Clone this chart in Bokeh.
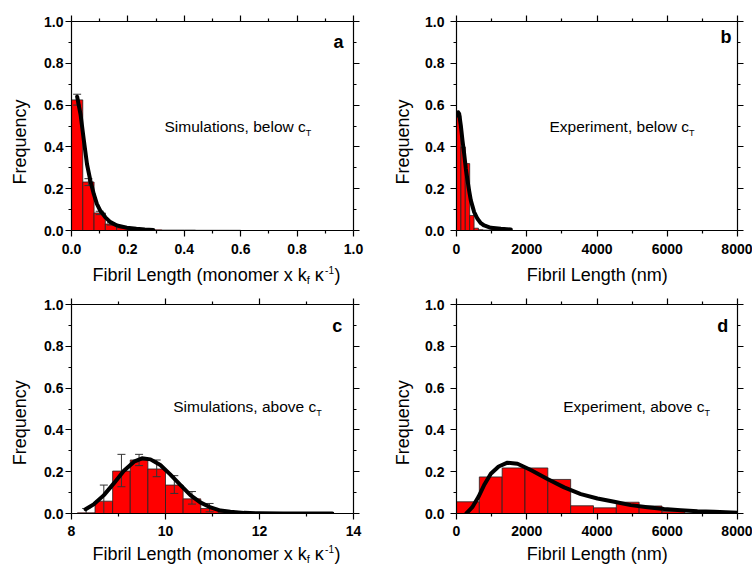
from bokeh.plotting import figure
from bokeh.layouts import column, row
from bokeh.models import (Range1d, LinearAxis, FixedTicker, Label,
                          CustomJSTickFormatter, PrintfTickFormatter)
from bokeh.embed import file_html
from bokeh.resources import INLINE

# ---------------- data ----------------
# panel a: simulations, below cT
a_centers = [0.02, 0.06, 0.10, 0.14, 0.18, 0.22, 0.26, 0.30, 0.34, 0.38, 0.42, 0.46, 0.50, 0.54, 0.58]
a_freq = [0.625, 0.232, 0.084, 0.031, 0.013, 0.006, 0.004, 0.003, 0.002, 0.002, 0.002, 0.001, 0.001, 0.001, 0.001]
a_bin_width = 0.04
a_err_x = [0.02, 0.06, 0.10, 0.14]
a_err_lo = [0.600, 0.215, 0.076, 0.026]
a_err_hi = [0.652, 0.248, 0.092, 0.037]
a_fit_x = [0.020, 0.032, 0.044, 0.055, 0.067, 0.079, 0.090, 0.102, 0.120, 0.138, 0.161, 0.196, 0.230, 0.260, 0.290]
a_fit_y = [0.640, 0.556, 0.430, 0.317, 0.238, 0.175, 0.127, 0.095, 0.063, 0.040, 0.024, 0.013, 0.008, 0.005, 0.003]

# panel b: experiment, below cT (nm)
b_centers = [62.5, 187.5, 312.5, 437.5, 562.5, 687.5, 812.5, 937.5, 1062.5, 1187.5, 1312.5]
b_freq = [0.55, 0.40, 0.32, 0.072, 0.011, 0.004, 0.002, 0.002, 0.013, 0.014, 0.012]
b_bin_width = 125
b_fit_x = [25, 47, 76, 123, 171, 218, 266, 313, 360, 408, 503, 598, 693, 787, 977, 1262, 1546]
b_fit_y = [0.550, 0.566, 0.558, 0.502, 0.430, 0.367, 0.295, 0.240, 0.190, 0.144, 0.088, 0.056, 0.035, 0.024, 0.013, 0.008, 0.005]

# panel c: simulations, above cT
c_centers = [8.3125, 8.6875, 9.0625, 9.4375, 9.8125, 10.1875, 10.5625, 10.9375, 11.3125]
c_freq = [0.003, 0.059, 0.203, 0.256, 0.213, 0.136, 0.070, 0.024, 0.006]
c_bin_width = 0.375
c_err_x = [8.3125, 8.6875, 9.0625, 9.4375, 9.8125, 10.1875, 10.5625, 10.9375]
c_err_lo = [0.000, 0.000, 0.128, 0.229, 0.176, 0.096, 0.045, 0.008]
c_err_hi = [0.024, 0.136, 0.283, 0.283, 0.256, 0.181, 0.105, 0.048]
c_fit_x = [8.30, 8.48, 8.69, 8.90, 9.11, 9.33, 9.50, 9.68, 9.89, 10.10, 10.32, 10.53, 10.74, 10.96, 11.17, 11.38, 11.67, 12.0, 12.5, 13.0, 13.55]
c_fit_y = [0.020, 0.045, 0.088, 0.144, 0.203, 0.248, 0.264, 0.259, 0.232, 0.187, 0.136, 0.088, 0.053, 0.029, 0.014, 0.008, 0.003, 0.001, 0.0, 0.0, 0.0]

# panel d: experiment, above cT (nm)
d_centers = [325, 975, 1625, 2275, 2925, 3575, 4225, 4875, 5525, 6175]
d_freq = [0.056, 0.175, 0.218, 0.218, 0.163, 0.037, 0.027, 0.054, 0.036, 0.009]
d_bin_width = 650
d_fit_x = [280, 450, 626, 800, 977, 1200, 1450, 1736, 2116, 2590, 3065, 3540, 4013, 4490, 4962, 5436, 5911, 6385, 6860, 7334, 8000]
d_fit_y = [0.000, 0.030, 0.080, 0.140, 0.190, 0.225, 0.243, 0.238, 0.208, 0.165, 0.125, 0.093, 0.072, 0.056, 0.040, 0.030, 0.021, 0.016, 0.011, 0.008, 0.004]

y_major = [0.0, 0.2, 0.4, 0.6, 0.8, 1.0]
y_minor = [0.1, 0.3, 0.5, 0.7, 0.9]
a_x_major = [0.0, 0.2, 0.4, 0.6, 0.8, 1.0]
a_x_minor = [0.1, 0.3, 0.5, 0.7, 0.9]
nm_major = [0, 2000, 4000, 6000, 8000]
nm_minor = [1000, 3000, 5000, 7000]
c_x_major = [8, 10, 12, 14]
c_x_minor = [9, 11, 13]

FONT = "Liberation Sans"
# Arial / Liberation Sans advance widths (1/1000 em) for text placement
ADV = {' ': 278, ',': 278, '(': 333, ')': 333, '-': 333, '1': 556, 'F': 611, 'L': 556, 'S': 667,
       'E': 667, 'T': 611, 'a': 556, 'b': 556, 'c': 500, 'e': 556, 'g': 556, 'h': 556, 'i': 222,
       'k': 500, 'l': 222, 'm': 833, 'n': 556, 'o': 556, 'p': 556, 'r': 333, 's': 500, 't': 278,
       'u': 556, 'v': 500, 'w': 722, 'x': 500, 'f': 278, 'κ': 520}
BASE_FIX = 0.22  # rendered alphabetic baseline sits this many em lower than asked


def tw(s, size):
    return sum(ADV.get(ch, 556) for ch in s) * size / 1000.0


def label(p, x, y, text, size, bold=False, align="left", baseline="alphabetic", angle=0.0,
          dx=0.0, dy=0.0):
    if baseline == "alphabetic":
        dy += BASE_FIX * size
    p.add_layout(Label(x=x, y=y, x_offset=dx, y_offset=dy,
                       text=text, text_font=FONT, text_font_size=f"{size}px",
                       text_font_style="bold" if bold else "normal", text_color="black",
                       text_align=align, text_baseline=baseline, angle=angle))


def frame_text(p, dx, dy, text, size, bold=False):
    # offsets in pixels from the frame's bottom-left corner
    label(p, p.x_range.start, p.y_range.start, text, size, bold=bold, dx=dx, dy=dy)


def frame_parts(p, dx, dy, parts):
    cx = dx
    for t, s, off in parts:
        frame_text(p, cx, dy + off, t, s)
        cx += tw(t, s)


def make_axis(ticks, minor, labels, fmt, standoff):
    ax = LinearAxis(ticker=FixedTicker(ticks=ticks, minor_ticks=minor))
    ax.axis_line_color = "black"
    ax.axis_line_width = 1.2
    ax.major_tick_line_color = "black"
    ax.minor_tick_line_color = "black"
    ax.major_tick_line_width = 1.2
    ax.minor_tick_line_width = 1.2
    ax.major_tick_in = 0
    ax.major_tick_out = 6
    ax.minor_tick_in = 0
    ax.minor_tick_out = 3
    if labels:
        ax.formatter = PrintfTickFormatter(format=fmt)
        ax.major_label_text_font = FONT
        ax.major_label_text_font_size = "14px"
        ax.major_label_text_font_style = "bold"
        ax.major_label_text_color = "black"
        ax.major_label_standoff = standoff
    else:
        ax.formatter = CustomJSTickFormatter(code="return ''")
        ax.major_label_text_font_size = "0px"
        ax.major_label_standoff = 0
    return ax


def clean(p):
    p.outline_line_color = None
    p.background_fill_color = "white"
    p.border_fill_color = "white"
    p.xgrid.visible = False
    p.ygrid.visible = False


def make_panel(xr, xmaj, xmin, xfmt, w, h, bl, br, bt, bb, ystand, xstand):
    p = figure(width=w, height=h, x_range=Range1d(*xr), y_range=Range1d(0, 1),
               output_backend="svg", toolbar_location=None,
               x_axis_location=None, y_axis_location=None,
               min_border_left=bl, min_border_right=br, min_border_top=bt, min_border_bottom=bb)
    clean(p)
    p.add_layout(make_axis(xmaj, xmin, True, xfmt, xstand), "below")
    p.add_layout(make_axis(y_major, y_minor, True, "%.1f", ystand), "left")
    p.add_layout(make_axis(xmaj, xmin, False, None, 0), "above")
    p.add_layout(make_axis(y_major, y_minor, False, None, 0), "right")
    return p


def strip(w, h):
    s = figure(width=w, height=h, x_range=Range1d(0, w), y_range=Range1d(0, h),
               output_backend="svg", toolbar_location=None,
               x_axis_location=None, y_axis_location=None, min_border=0)
    clean(s)
    return s


def draw(p, centers, freq, bw, fx, fy, ex=None, elo=None, ehi=None):
    p.vbar(x=centers, width=bw, top=freq, bottom=0, fill_color="#FF0000",
           line_color="#222222", line_width=0.8)
    if ex is not None:
        p.segment(x0=ex, y0=elo, x1=ex, y1=ehi, line_color="#333333", line_width=1)
        p.scatter(x=ex + ex, y=elo + ehi, marker="dash", size=8,
                  line_color="#333333", line_width=1)
    p.line(fx, fy, line_color="black", line_width=4, line_join="round", line_cap="round")


# ---------------- layout ----------------
ROW1_H, ROW2_H = 260, 252
T1_H, T2_H = 29, 23
LW_L, PW_L, LW_R, PW_R = 38, 342, 34, 338

pa = make_panel((0, 1), a_x_major, a_x_minor, "%.1f", PW_L, ROW1_H, 33, 27, 21, 30, 2, 7)
pb = make_panel((0, 8000), nm_major, nm_minor, "%d", PW_R, ROW1_H, 42, 15, 21, 30, 6, 7)
pc = make_panel((8, 14), c_x_major, c_x_minor, "%d", PW_L, ROW2_H, 33, 27, 15, 28, 2, 6)
pd = make_panel((0, 8000), nm_major, nm_minor, "%d", PW_R, ROW2_H, 42, 15, 15, 28, 6, 6)

draw(pa, a_centers, a_freq, a_bin_width, a_fit_x, a_fit_y, a_err_x, a_err_lo, a_err_hi)
draw(pb, b_centers, b_freq, b_bin_width, b_fit_x, b_fit_y)
draw(pc, c_centers, c_freq, c_bin_width, c_fit_x, c_fit_y, c_err_x, c_err_lo, c_err_hi)
draw(pd, d_centers, d_freq, d_bin_width, d_fit_x, d_fit_y)

# annotations inside the frames
frame_parts(pa, 93, 100.3, [("Simulations, below c", 15.5, 0), ("T", 9, -5)])
frame_parts(pb, 93, 100.3, [("Experiment, below c", 15.5, 0), ("T", 9, -5)])
frame_parts(pc, 101.7, 103.7, [("Simulations, above c", 15.5, 0), ("T", 9, -5)])
frame_parts(pd, 106.7, 103.7, [("Experiment, above c", 15.5, 0), ("T", 9, -5)])

frame_text(pa, 262, 184.7, "a", 18, bold=True)
frame_text(pb, 264, 189.7, "b", 18, bold=True)
frame_text(pc, 260.7, 183.3, "c", 18, bold=True)
frame_text(pd, 260.7, 183.3, "d", 18, bold=True)

# y-axis titles (strips left of the panels)
fa_l, fb_l = strip(LW_L, ROW1_H), strip(LW_R, ROW1_H)
fc_l, fd_l = strip(LW_L, ROW2_H), strip(LW_R, ROW2_H)
for s, x, y in [(fa_l, 19.5, 110), (fb_l, 22.5, 110), (fc_l, 19.5, 109.5), (fd_l, 22.5, 109.5)]:
    label(s, x, y, "Frequency", 18, align="center", baseline="middle", angle=1.5707963)

# x-axis titles (strips below the panels); pieces placed one after another
ta, tb = strip(LW_L + PW_L, T1_H), strip(LW_R + PW_R, T1_H)
tc, td = strip(LW_L + PW_L, T2_H), strip(LW_R + PW_R, T2_H)
# (text, size, baseline shift, advance added before the piece)
sim_parts = [("Fibril Length (monomer x k", 18, 0, 0), ("f", 11, -3.5, 0), ("κ", 18, 0, 5.0),
             ("-1", 10, 6.5, 1.0), (")", 18, 0, 0.5)]
sim_w = sum(tw(t, s) + pre for t, s, _, pre in sim_parts)
for s, base in [(ta, 11), (tc, 6.5)]:
    cx = 216 - sim_w / 2
    for t, sz, off, pre in sim_parts:
        cx += pre
        label(s, cx, base + off, t, sz)
        cx += tw(t, sz)
for s, base in [(tb, 11), (td, 6.5)]:
    label(s, 216.7, base, "Fibril Length (nm)", 18, align="center")

layout = column(row(fa_l, pa, fb_l, pb), row(ta, tb),
                row(fc_l, pc, fd_l, pd), row(tc, td))

with open("out.html", "w") as f:
    f.write(file_html(layout, INLINE))
